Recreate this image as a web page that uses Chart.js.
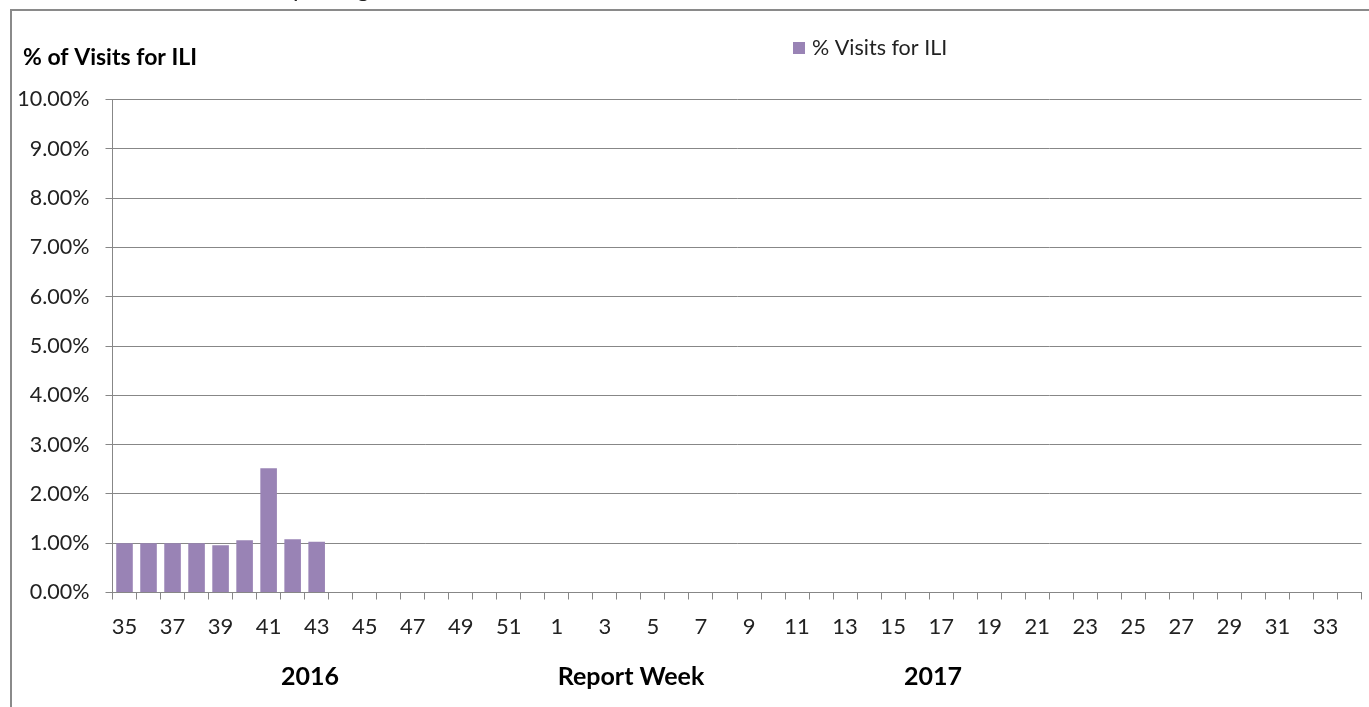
<!DOCTYPE html>
<html>
<head>
<meta charset="utf-8">
<script src="https://cdn.jsdelivr.net/npm/chart.js@4.4.1/dist/chart.umd.min.js"></script>
<style>
  html, body { margin: 0; padding: 0; background: #fff; overflow: hidden; }
  #wrap { position: relative; width: 1369px; height: 707px; }
  #frame { position: absolute; left: 10px; top: 9px; width: 2000px; height: 2000px;
           border-left: 2px solid #8a8a8a; border-top: 2px solid #8a8a8a; box-sizing: border-box; }
  canvas { position: absolute; left: 0; top: 0; }
</style>
</head>
<body>
<div id="wrap">
  <div id="frame"></div>
  <canvas id="chart" width="1369" height="707"></canvas>
</div>
<script>
// Report weeks: 2016 weeks 35-52, then 2017 weeks 1-34
const weeks = [35,36,37,38,39,40,41,42,43,44,45,46,47,48,49,50,51,52,
               1,2,3,4,5,6,7,8,9,10,11,12,13,14,15,16,17,18,19,20,21,22,23,24,25,26,27,28,29,30,31,32,33,34];
// Percent of visits for influenza-like illness (reported weeks only)
const iliPercent = [1.00, 1.00, 1.00, 1.00, 0.96, 1.06, 2.52, 1.08, 1.03];
const yTicks = [0,1,2,3,4,5,6,7,8,9,10];

const seriesName = '% Visits for ILI';
const barColor = '#9983b5';
const gridColor = '#878787';
const FONT = 'Lato, "Open Sans", sans-serif';

const labels = weeks.map(String);
const data = weeks.map((w, i) => i < iliPercent.length ? iliPercent[i] : null);

const annotations = {
  id: 'annotations',
  afterDraw(chart) {
    const ctx = chart.ctx;
    ctx.save();
    // heading above the frame, cut off by the page edge
    ctx.fillStyle = '#222';
    ctx.font = '24px ' + FONT;
    ctx.textBaseline = 'alphabetic';
    ctx.textAlign = 'left';
    ctx.fillText('Reporting', 266, -3);
    // y-axis heading
    ctx.fillStyle = '#000';
    ctx.font = 'bold 23px ' + FONT;
    ctx.textBaseline = 'middle';
    ctx.fillText('% of Visits for ILI', 23, 58);
    // legend
    ctx.fillStyle = barColor;
    ctx.fillRect(793, 42, 12, 12);
    ctx.fillStyle = '#222';
    ctx.font = '21.5px ' + FONT;
    ctx.fillText(seriesName, 812, 48);
    // bottom captions
    ctx.fillStyle = '#000';
    ctx.font = 'bold 25px ' + FONT;
    ctx.textAlign = 'center';
    ctx.fillText('2016', 310, 677);
    ctx.fillText('Report Week', 631, 677);
    ctx.fillText('2017', 933, 677);
    ctx.restore();
  }
};

new Chart(document.getElementById('chart'), {
  type: 'bar',
  data: {
    labels: labels,
    datasets: [{
      label: seriesName,
      data: data,
      backgroundColor: barColor,
      borderWidth: 0,
      barPercentage: 0.69,
      categoryPercentage: 1.0
    }]
  },
  options: {
    responsive: false,
    animation: false,
    devicePixelRatio: 1,
    layout: { padding: { left: 0, right: 7.5, top: 99.5, bottom: 0 } },
    plugins: {
      legend: { display: false },
      title: { display: false },
      tooltip: { enabled: false }
    },
    scales: {
      x: {
        offset: true,
        grid: {
          offset: true,
          drawOnChartArea: false,
          drawTicks: true,
          tickLength: 7,
          color: gridColor
        },
        border: { color: gridColor, width: 1 },
        ticks: {
          autoSkip: false,
          maxRotation: 0,
          minRotation: 0,
          padding: 14,
          color: '#222',
          font: { family: FONT, size: 22 },
          callback: function (v, i) { return i % 2 === 0 ? labels[i] : ''; }
        },
        afterFit(scale) { scale.height = 114.5; }
      },
      y: {
        min: 0,
        max: 10,
        afterBuildTicks(scale) { scale.ticks = yTicks.map(v => ({ value: v })); },
        grid: {
          color: gridColor,
          tickLength: 7,
          drawTicks: true
        },
        border: { color: gridColor, width: 1 },
        ticks: {
          padding: 16,
          color: '#222',
          font: { family: FONT, size: 21.5 },
          callback: v => v.toFixed(2) + '%'
        },
        afterFit(scale) { scale.width = 112.5; }
      }
    }
  },
  plugins: [annotations]
});
</script>
</body>
</html>
